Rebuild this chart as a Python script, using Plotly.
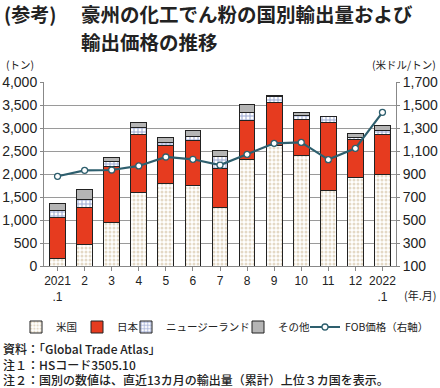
import plotly.graph_objects as go

months = ["2021<br>.1", "2", "3", "4", "5", "6", "7", "8", "9", "10", "11", "12", "2022<br>.1"]
us = [160, 470, 950, 1600, 1795, 1755, 1275, 2320, 2630, 2400, 1640, 1930, 1995]
japan = [890, 805, 1215, 1255, 820, 970, 840, 845, 930, 790, 1485, 825, 860]
nz = [160, 175, 100, 160, 75, 85, 260, 170, 120, 85, 115, 40, 95]
other = [150, 215, 95, 95, 105, 140, 145, 185, 35, 65, 15, 90, 110]
fob = [880, 932, 935, 970, 1048, 1028, 978, 1071, 1167, 1175, 1025, 1123, 1436]

x = list(range(len(months)))
FONT = "Noto Sans CJK JP"
NUMFONT = "Liberation Sans, Noto Sans CJK JP"
outline = dict(color="#222222", width=1)

fig = go.Figure()
fig.add_trace(go.Bar(x=x, y=us, name="米国", legend="legend",
                     marker=dict(color="white", line=outline,
                                 pattern=dict(shape=".", fgcolor="#c9b48e", bgcolor="white",
                                              size=4, solidity=0.45))))
fig.add_trace(go.Bar(x=x, y=japan, name="日本", legend="legend2",
                     marker=dict(color="#e63b1f", line=outline)))
fig.add_trace(go.Bar(x=x, y=nz, name="ニュージーランド", legend="legend3",
                     marker=dict(color="white", line=outline,
                                 pattern=dict(shape="+", fgcolor="#3a52a6", bgcolor="white",
                                              size=4, solidity=0.45))))
fig.add_trace(go.Bar(x=x, y=other, name="その他", legend="legend4",
                     marker=dict(color="#b5b5b5", line=outline)))
fig.add_trace(go.Scatter(x=x, y=fob, name="FOB価格（右軸）", legend="legend5", yaxis="y2",
                         mode="lines+markers",
                         line=dict(color="#2e5f6e", width=2.2),
                         marker=dict(size=6, color="white", line=dict(color="#2e5f6e", width=1.3))))

def leg(xpx):
    return dict(orientation="h", xref="container", yref="container",
                x=(xpx - 42) / 440, y=1 - 327 / 388, xanchor="left", yanchor="middle",
                font=dict(family=FONT, size=10.5, color="#222"), bgcolor="rgba(0,0,0,0)",
                itemwidth=30, borderwidth=0)

W, H = 440, 388
L, R, T, B = 44, 396, 82, 266
pw, ph = R - L, B - T

def px(xv):
    return (xv - L) / pw

def py(yv):
    return (B - yv) / ph

ann = []
def add(text, xv, yv, size, xanchor="left", weight="normal", family=FONT, align="left"):
    ann.append(dict(text=text, x=px(xv), y=py(yv), xref="paper", yref="paper",
                    xanchor=xanchor, yanchor="middle", showarrow=False, align=align,
                    font=dict(family=family, size=size, color="#222", weight=weight)))

add("(参考)", 2, 13, 19, weight="bold")
add("豪州の化工でん粉の国別輸出量および", 79, 13, 19.5, weight="bold")
add("輸出価格の推移", 79, 41, 19.5, weight="bold")
add("(トン)", 4, 64, 10.5)
add("(米ドル/トン)", 438, 64, 10.5, xanchor="right")
add("(年.月)", 420, 295, 11, xanchor="center")
add("資料：「Global Trade Atlas」<br>注１：HSコード3505.10<br>"
    "注２：国別の数値は、直近13カ月の輸出量（累計）上位３カ国を表示。",
    1, 364, 12, weight=500)

fig.update_layout(
    width=W, height=H,
    margin=dict(l=L, r=W - R, t=T, b=H - B, autoexpand=False),
    paper_bgcolor="white", plot_bgcolor="white",
    barmode="stack", bargap=0.42,
    showlegend=True,
    legend=leg(58), legend2=leg(119), legend3=leg(168), legend4=leg(280), legend5=leg(347),
    xaxis=dict(tickmode="array", tickvals=x, ticktext=months, range=[-0.5, len(x) - 0.5],
               showline=True, linecolor="#888", linewidth=1,
               ticks="outside", ticklen=4, tickcolor="#888", tickson="boundaries",
               showgrid=False, tickfont=dict(family=NUMFONT, size=12, color="#222")),
    yaxis=dict(range=[0, 4000], dtick=500, tickformat=",", showgrid=True, gridcolor="#9a9a9a",
               gridwidth=1, showline=True, linecolor="#888", ticks="outside", ticklen=3,
               tickcolor="#888", zeroline=False,
               tickfont=dict(family=NUMFONT, size=14, color="#222")),
    yaxis2=dict(range=[100, 1700], dtick=200, tick0=100, tickformat=",", overlaying="y", side="right",
                showgrid=False, showline=True, linecolor="#888", ticks="outside", ticklen=3,
                tickcolor="#888", zeroline=False,
                tickfont=dict(family=NUMFONT, size=14, color="#222")),
    annotations=ann,
)

fig.write_html("out.html", config={"displayModeBar": False},
               post_script="document.body.style.margin='0';document.body.style.padding='0';"
                           "document.documentElement.style.overflow='hidden';")
